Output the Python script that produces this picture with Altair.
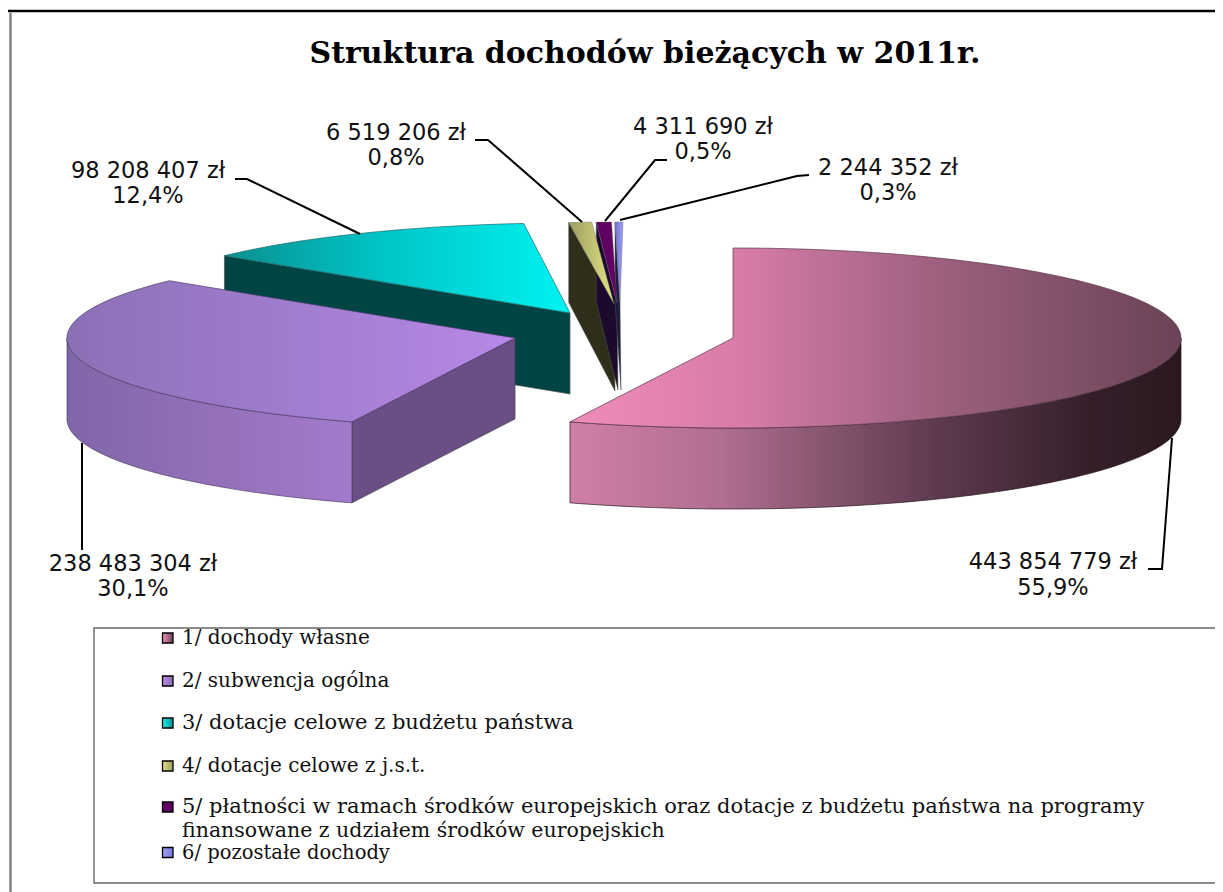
import math
import numpy as np
import altair as alt

# ---- data ----
categories = [
    "1/ dochody własne", "2/ subwencja ogólna", "3/ dotacje celowe z budżetu państwa",
    "4/ dotacje celowe z j.s.t.",
    "5/ płatności w ramach środków europejskich oraz dotacje z budżetu  państwa na programy",
    "6/ pozostałe dochody",
]
category_line2 = "finansowane z udziałem środków europejskich"
amounts = [443854779, 238483304, 98208407, 6519206, 4311690, 2244352]
amount_labels = ["443 854 779 zł", "238 483 304 zł", "98 208 407 zł", "6 519 206 zł", "4 311 690 zł", "2 244 352 zł"]
percent_labels = ["55,9%", "30,1%", "12,4%", "0,8%", "0,5%", "0,3%"]
title_text = "Struktura dochodów bieżących w 2011r."

# ---- layout ----
OX, OY = 8, 8
A, B, T = 448, 90, 81
total = sum(amounts)
edges = np.cumsum([0] + amounts) / total * 360.0


def P(x, y):
    return [round(float(x) - OX, 2), round(float(y) - OY, 2)]


def grad(*stops):
    out = []
    for s in stops:
        out.append({"offset": s[0], "color": s[1]})
    return {"gradient": "linear", "x1": 0, "x2": 1, "y1": 0, "y2": 0, "stops": out}


def rim(cx, cy, a0, a1, n=90):
    th = np.radians(np.linspace(a0, a1, n))
    return [(cx + A * math.sin(t), cy - B * math.cos(t)) for t in th]


def poly(pts, fill, stroke=None, sw=0.7):
    ring = [P(*p) for p in pts]
    ring.append(ring[0])
    feat = {"type": "Feature", "properties": {}, "geometry": {"type": "Polygon", "coordinates": [ring]}}
    kw = {"fill": fill, "strokeWidth": sw}
    kw["stroke"] = stroke if stroke else "transparent"
    return alt.Chart(alt.Data(values=[feat])).mark_geoshape(**kw).project(type="identity", scale=1, translate=[0, 0])


def polyline(pts, color="#000000", sw=2.0):
    feat = {"type": "Feature", "properties": {},
            "geometry": {"type": "LineString", "coordinates": [P(*p) for p in pts]}}
    return alt.Chart(alt.Data(values=[feat])).mark_geoshape(
        fill="transparent", stroke=color, strokeWidth=sw
    ).project(type="identity", scale=1, translate=[0, 0])


def text(s, x, y, size, font, align="left", weight="normal", color="#111111"):
    return alt.Chart(alt.Data(values=[{"t": s}])).mark_text(
        align=align, baseline="middle", fontSize=size, font=font, fontWeight=weight, color=color
    ).encode(x=alt.value(x - OX), y=alt.value(y - OY), text="t:N")


layers = []

# cyan slice
c3 = (570, 313)
a0, a1 = edges[2], edges[3]
p0 = rim(*c3, a0, a0, 1)[0]
layers.append(poly([p0, c3, (c3[0], c3[1] + T), (p0[0], p0[1] + T)], "#004444", "#555555"))
layers.append(poly([c3] + rim(*c3, a0, a1),
                   grad((0, "#0b8f90"), (0.45, "#00c4c6"), (1, "#00f2f2")), "#1a6a6a"))

# the three thin slices (rim centre, apex)
thin = [
    (4, (615, 312), (614, 304), "#2e2e1a", grad((0, "#9c9c62"), (1, "#e4e484"))),
    (5, (619.5, 312), (617, 303), "#1c0a2c", grad((0, "#5a0060"), (1, "#660066"))),
    (6, (623, 312), (620, 303), "#1c1c3c", grad((0, "#7070d0"), (1, "#a0a0f8"))),
]
for i, c, ap, side, top in thin:
    a0, a1 = edges[i - 1], edges[i]
    first = rim(*c, a0, a0, 1)[0]
    layers.append(poly([first, ap, (ap[0] + 1, ap[1] + T + 6), (first[0], first[1] + T - 1)], side, "#555555", 0.5))
for i, c, ap, side, top in thin:
    a0, a1 = edges[i - 1], edges[i]
    layers.append(poly([ap] + rim(*c, a0, a1, 8), top, "#666666", 0.4))

# purple slice
c2 = (515, 338)
a0, a1 = edges[1], edges[2]
p0 = rim(*c2, a0, a0, 1)[0]
layers.append(poly([c2, p0, (p0[0], p0[1] + T), (c2[0], c2[1] + T)], "#6a4f86", "#444444"))
front = rim(*c2, a0, 270)
layers.append(poly(front + [(x, y + T) for x, y in reversed(front)],
                   grad((0, "#7f66a8"), (0.5, "#9370b8"), (1, "#a27acb")), "#4d3d66"))
layers.append(poly([c2] + rim(*c2, a0, a1),
                   grad((0, "#8b70b6"), (0.5, "#a07dcf"), (1, "#b788e8")), "#4d3d66"))

# pink slice
c1 = (733, 338)
a0, a1 = edges[0], edges[1]
front = rim(*c1, 90, a1)
layers.append(poly(front + [(x, y + T) for x, y in reversed(front)],
                   grad((0, "#d07fa8"), (0.25, "#b06e90"), (0.45, "#80506a"), (0.6, "#5e3a50"),
                        (0.85, "#35202a"), (1, "#2a1820")),
                   "#2a1820"))
layers.append(poly([c1] + rim(*c1, a0, a1),
                   grad((0, "#ee8cb9"), (0.27, "#d97caa"), (0.62, "#9a5f7d"), (1, "#6a4256")), "#5a3a4a"))

# leader lines
layers += [
    polyline([(1172, 438), (1162, 569), (1148, 569)]),
    polyline([(82, 443), (82, 550)]),
    polyline([(235, 179), (247, 179), (360, 234)]),
    polyline([(475, 140), (488, 140), (582, 222)]),
    polyline([(667, 160), (655, 160), (605, 221)]),
    polyline([(809, 175), (797, 176), (620, 220)]),
]

# frame
layers.append(polyline([(8, 11), (1240, 11)], "#000000", 2.5))
layers.append(polyline([(10.5, 13), (10.5, 900)], "#808080", 2.5))
layers.append(polyline([(1240, 628), (94, 628), (94, 883), (1240, 883)], "#666666", 1.4))

# title
layers.append(text(title_text, 645, 54, 30, "DejaVu Serif", "center", "bold", "#000000"))

# value labels
SANS = "DejaVu Sans"
label_pos = [(1053, 561.5, 587.5), (133, 563.5, 588.5), (148, 170.5, 195.5), (396, 132.5, 157.5),
             (703, 126.5, 151.5), (888, 167.5, 192.5)]
for s, p, (cx, y1, y2) in zip(amount_labels, percent_labels, label_pos):
    layers.append(text(s, cx, y1, 22.5, SANS, "center"))
    layers.append(text(p, cx, y2, 22.5, SANS, "center"))

# legend
SERIF = "DejaVu Serif"
swatches = [
    grad((0, "#f090c0"), (1, "#6a4256")), grad((0, "#b788e8"), (1, "#8b70b6")), grad((0, "#00f2f2"), (1, "#0b8f90")),
    grad((0, "#e4e484"), (1, "#9c9c62")), grad((0, "#660066"), (1, "#5a0060")), grad((0, "#a0a0f8"), (1, "#7878d8")),
]
legend_y = [638, 681, 723, 766, 807, 852.5]
legend_size = [20, 20, 21, 20, 21, 19.5]
for s, y, g, fs in zip(categories, legend_y, swatches, legend_size):
    layers.append(poly([(162.5, y - 5), (173, y - 5), (173, y + 5), (162.5, y + 5)], g, "#000000", 1.3))
    layers.append(text(s, 182, y, fs, SERIF))
layers.append(text(category_line2, 182, 830.5, 20.5, SERIF))

chart = alt.layer(*layers).properties(
    width=1207, height=884, padding=0, autosize=alt.AutoSizeParams(type="none"),
    background="white",
).configure_view(stroke=None)

chart.save("out.html", embed_options={"renderer": "svg", "actions": False})
